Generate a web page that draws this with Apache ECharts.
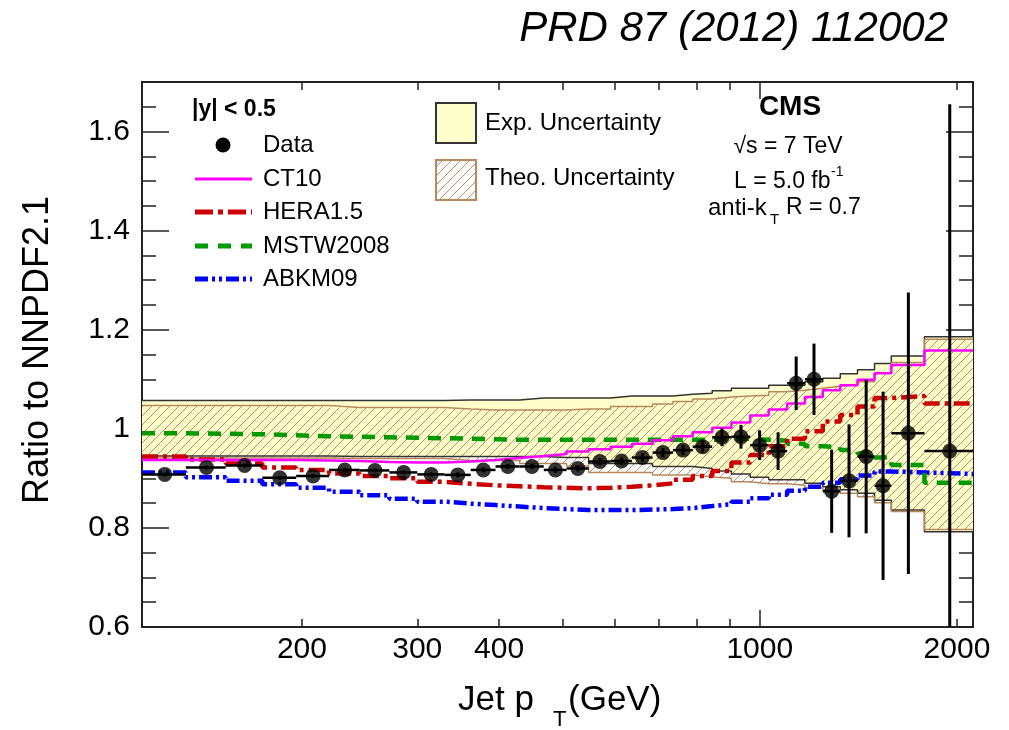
<!DOCTYPE html>
<html>
<head>
<meta charset="utf-8">
<script src="https://cdn.jsdelivr.net/npm/echarts@6/dist/echarts.min.js"></script>
<style>
  html, body { margin: 0; padding: 0; background: #fff; }
  #chart { width: 1009px; height: 730px; }
</style>
</head>
<body>
<div id="chart"></div>
<script>
  // jet pT bin edges (GeV), |y| < 0.5
  const binEdges = [114, 133, 153, 174, 196, 220, 245, 272, 300, 330, 362, 395, 430, 468, 507, 548, 592, 638, 686,
    737, 790, 846, 905, 967, 1032, 1101, 1172, 1248, 1327, 1410, 1497, 1588, 1784, 2116]

  const dataRatio = [0.908, 0.922, 0.926, 0.901, 0.905, 0.917, 0.916, 0.912, 0.908, 0.907, 0.917, 0.924, 0.924,
    0.917, 0.920, 0.934, 0.935, 0.942, 0.952, 0.957, 0.964, 0.983, 0.984, 0.967, 0.955, 1.092, 1.100, 0.874,
    0.895, 0.944, 0.885, 0.991, 0.955]
  const dataErr = [0.004, 0.004, 0.004, 0.004, 0.004, 0.004, 0.004, 0.004, 0.004, 0.005, 0.005, 0.005, 0.005,
    0.006, 0.006, 0.007, 0.007, 0.008, 0.009, 0.010, 0.012, 0.018, 0.024, 0.030, 0.038, 0.054, 0.072, 0.084,
    0.114, 0.155, 0.190, 0.284, 0.700]

  const expHi = [1.057, 1.057, 1.057, 1.057, 1.057, 1.057, 1.057, 1.057, 1.057, 1.058, 1.058, 1.058, 1.062,
    1.062, 1.062, 1.062, 1.066, 1.066, 1.066, 1.070, 1.072, 1.077, 1.082, 1.082, 1.088, 1.088, 1.095, 1.102,
    1.111, 1.119, 1.132, 1.147, 1.186]
  const expLo = [0.945, 0.945, 0.945, 0.945, 0.945, 0.944, 0.944, 0.944, 0.944, 0.944, 0.944, 0.944, 0.944,
    0.942, 0.942, 0.930, 0.930, 0.930, 0.924, 0.924, 0.920, 0.915, 0.909, 0.902, 0.897, 0.897, 0.890, 0.883,
    0.877, 0.870, 0.856, 0.836, 0.792]
  const theoHi = [1.047, 1.047, 1.047, 1.047, 1.047, 1.043, 1.043, 1.043, 1.043, 1.040, 1.038, 1.038, 1.038,
    1.038, 1.040, 1.040, 1.045, 1.045, 1.050, 1.055, 1.060, 1.064, 1.066, 1.068, 1.075, 1.078, 1.082, 1.086,
    1.090, 1.095, 1.112, 1.134, 1.181]
  const theoLo = [0.941, 0.941, 0.941, 0.941, 0.941, 0.940, 0.940, 0.940, 0.940, 0.936, 0.936, 0.936, 0.930,
    0.930, 0.925, 0.912, 0.912, 0.912, 0.907, 0.907, 0.903, 0.900, 0.893, 0.889, 0.889, 0.886, 0.881, 0.876,
    0.870, 0.863, 0.851, 0.833, 0.797]

  const ct10 = [0.937, 0.937, 0.937, 0.937, 0.936, 0.935, 0.933, 0.932, 0.932, 0.934, 0.937, 0.941, 0.945, 0.949,
    0.954, 0.959, 0.964, 0.970, 0.977, 0.985, 0.993, 1.002, 1.013, 1.027, 1.039, 1.051, 1.064, 1.078, 1.088,
    1.099, 1.112, 1.129, 1.158]
  const hera = [0.944, 0.938, 0.930, 0.922, 0.917, 0.910, 0.905, 0.900, 0.893, 0.889, 0.886, 0.884, 0.882, 0.881,
    0.880, 0.881, 0.883, 0.886, 0.890, 0.897, 0.905, 0.915, 0.932, 0.947, 0.965, 0.980, 0.995, 1.015, 1.028,
    1.045, 1.062, 1.066, 1.051]
  const mstw = [0.991, 0.990, 0.989, 0.987, 0.985, 0.984, 0.983, 0.982, 0.981, 0.980, 0.979, 0.978, 0.978, 0.978,
    0.978, 0.978, 0.978, 0.978, 0.978, 0.978, 0.978, 0.979, 0.980, 0.978, 0.976, 0.970, 0.965, 0.963, 0.957,
    0.950, 0.942, 0.927, 0.891]
  const abkm = [0.912, 0.902, 0.895, 0.888, 0.881, 0.873, 0.866, 0.859, 0.853, 0.849, 0.846, 0.843, 0.840, 0.838,
    0.836, 0.836, 0.836, 0.837, 0.838, 0.840, 0.844, 0.848, 0.853, 0.860, 0.867, 0.875, 0.883, 0.891, 0.898,
    0.906, 0.914, 0.912, 0.909]

  const xTickLabels = [200, 300, 400, 1000, 2000]
  const xMinorTicks = [200, 300, 400, 500, 600, 700, 800, 900, 2000]
  const xMajorTicks = [1000]
  const yTickLabels = [0.6, 0.8, 1.0, 1.2, 1.4, 1.6]
  const yMinorTicks = [0.65, 0.7, 0.75, 0.85, 0.9, 0.95, 1.05, 1.1, 1.15, 1.25, 1.3, 1.35, 1.45, 1.5, 1.55, 1.65]

  const FONT = '"Liberation Sans", Arial, Helvetica, sans-serif'
  const brown = '#b8875e'
  const lx = v => Math.log10(v)

  const makeHatch = () => {
    const c = document.createElement('canvas')
    c.width = 9
    c.height = 9
    const ctx = c.getContext('2d')
    ctx.strokeStyle = '#bb9066'
    ctx.lineWidth = 1
    ctx.beginPath()
    ctx.moveTo(0, 9); ctx.lineTo(9, 0)
    ctx.moveTo(-1, 1); ctx.lineTo(1, -1)
    ctx.moveTo(8, 10); ctx.lineTo(10, 8)
    ctx.stroke()
    return c
  }
  const hatch = { image: makeHatch(), repeat: 'repeat' }

  // bins as [lo, hi, yLo, yHi] in log10(pT)
  const bandData = (lo, hi) => lo.map((v, i) => [lx(binEdges[i]), lx(binEdges[i + 1]), v, hi[i]])
  const stepPts = arr => binEdges.map((e, i) => [lx(e), arr[Math.min(i, arr.length - 1)]])

  const bandSeries = (data, fill, z) => ({
    type: 'custom',
    z: z,
    clip: true,
    silent: true,
    data: data,
    renderItem: (params, api) => {
      const p0 = api.coord([api.value(0), api.value(3)])
      const p1 = api.coord([api.value(1), api.value(2)])
      return {
        type: 'rect',
        shape: { x: p0[0] - 0.3, y: p0[1], width: p1[0] - p0[0] + 0.6, height: p1[1] - p0[1] },
        style: { fill: fill }
      }
    }
  })

  const stepLine = (arr, color, width, dash, z) => ({
    type: 'line',
    step: 'end',
    z: z,
    silent: true,
    showSymbol: false,
    data: stepPts(arr),
    lineStyle: { color: color, width: width, type: dash }
  })

  const points = dataRatio.map((v, i) => [lx((binEdges[i] + binEdges[i + 1]) / 2), v])
  const errData = dataRatio.map((v, i) =>
    [lx(binEdges[i]), lx(binEdges[i + 1]), v, dataErr[i], lx((binEdges[i] + binEdges[i + 1]) / 2)])

  const xMin = lx(binEdges[0])
  const xMax = lx(binEdges[binEdges.length - 1])
  const frame = { lineStyle: { color: '#222', width: 2 } }
  const tickStyle = { color: '#222', width: 1.5 }

  const xAxis = (grid, pos, len, ticks, labels) => ({
    type: 'value', gridIndex: grid, position: pos, min: xMin, max: xMax,
    splitLine: { show: false }, axisLine: frame,
    axisTick: { inside: true, length: len, lineStyle: tickStyle, customValues: ticks.map(lx) },
    axisLabel: labels ? {
      customValues: labels.map(lx), formatter: v => String(Math.round(Math.pow(10, v))),
      fontSize: 30, fontFamily: FONT, color: '#000', margin: 8
    } : { show: false }
  })
  const yAxis = (grid, pos, len, ticks, labels) => ({
    type: 'value', gridIndex: grid, position: pos, min: 0.6, max: 1.7,
    splitLine: { show: false }, axisLine: frame,
    axisTick: { inside: true, length: len, lineStyle: tickStyle, customValues: ticks },
    axisLabel: labels ? {
      customValues: labels, formatter: v => String(Math.round(v * 10) / 10),
      fontSize: 30, fontFamily: FONT, color: '#000', margin: 12
    } : { show: false }
  })

  const txt = (x, y, text, font, align) => ({
    type: 'text', x: x, y: y, z: 100,
    style: { text: text, font: font, fill: '#000', align: align || 'left', verticalAlign: 'middle',
      textAlign: align || 'left', textVerticalAlign: 'middle' }
  })
  const legLine = (y, color, width, dash) => ({
    type: 'line', z: 100, shape: { x1: 195, y1: y, x2: 252, y2: y },
    style: { stroke: color, lineWidth: width, lineDash: dash }
  })

  const chart = echarts.init(document.getElementById('chart'))

  const option = {
    animation: false,
    backgroundColor: '#fff',
    grid: [
      { left: 142, right: 36, top: 82, bottom: 103 },
      { left: 142, right: 36, top: 82, bottom: 103 }
    ],
    xAxis: [
      xAxis(0, 'bottom', 8, xMinorTicks, xTickLabels),
      xAxis(0, 'top', 8, xMinorTicks),
      xAxis(1, 'bottom', 17, xMajorTicks),
      xAxis(1, 'top', 17, xMajorTicks)
    ],
    yAxis: [
      yAxis(0, 'left', 27, yTickLabels, yTickLabels),
      yAxis(0, 'right', 27, yTickLabels),
      yAxis(1, 'left', 14, yMinorTicks),
      yAxis(1, 'right', 14, yMinorTicks)
    ],
    series: [
      bandSeries(bandData(expLo, expHi), '#ffffcc', 1),
      bandSeries(bandData(theoLo, theoHi), hatch, 2),
      stepLine(expHi, '#333', 1.5, 'solid', 3),
      stepLine(expLo, '#333', 1.5, 'solid', 3),
      stepLine(theoHi, brown, 1.5, 'solid', 3),
      stepLine(theoLo, brown, 1.5, 'solid', 3),
      stepLine(abkm, '#0000ff', 4.5, [13, 4, 3, 4, 3, 4], 4),
      stepLine(mstw, '#009900', 4.5, [13, 9], 4),
      stepLine(hera, '#cc0000', 4.5, [16, 5, 4, 5], 4),
      stepLine(ct10, '#ff00ff', 2.5, 'solid', 5),
      {
        type: 'custom',
        z: 6,
        clip: true,
        silent: true,
        data: errData,
        renderItem: (params, api) => {
          const a = api.coord([api.value(0), api.value(2)])
          const b = api.coord([api.value(1), api.value(2)])
          const top = api.coord([api.value(4), api.value(2) + api.value(3)])
          const bot = api.coord([api.value(4), api.value(2) - api.value(3)])
          return {
            type: 'group',
            children: [
              { type: 'line', shape: { x1: a[0], y1: a[1], x2: b[0], y2: b[1] }, style: { stroke: '#000', lineWidth: 2.5 } },
              { type: 'line', shape: { x1: top[0], y1: top[1], x2: bot[0], y2: bot[1] }, style: { stroke: '#000', lineWidth: 3 } }
            ]
          }
        }
      },
      {
        type: 'scatter',
        z: 7,
        silent: true,
        symbol: 'circle',
        symbolSize: 15,
        itemStyle: { color: '#000' },
        data: points
      }
    ],
    graphic: [
      txt(948, 29, 'PRD 87 (2012) 112002', 'italic 42px ' + FONT, 'right'),
      {
        type: 'text', x: 38, y: 350, rotation: Math.PI / 2, z: 100,
        style: { text: 'Ratio to NNPDF2.1', font: '36px ' + FONT, fill: '#000', align: 'center', verticalAlign: 'middle',
          textAlign: 'center', textVerticalAlign: 'middle' }
      },
      txt(458, 700, 'Jet p', '35px ' + FONT),
      txt(553, 720, 'T', '22px ' + FONT),
      txt(568, 700, '(GeV)', '35px ' + FONT),

      txt(192, 110, '|y| < 0.5', 'bold 23px ' + FONT),
      { type: 'circle', z: 100, shape: { cx: 223, cy: 145, r: 7.5 }, style: { fill: '#000' } },
      txt(263, 145, 'Data', '24px ' + FONT),
      legLine(179, '#ff00ff', 3, null),
      txt(263, 179, 'CT10', '24px ' + FONT),
      legLine(212, '#cc0000', 5, [18, 5, 5, 5]),
      txt(263, 212, 'HERA1.5', '24px ' + FONT),
      legLine(246, '#009900', 5, [13, 10]),
      txt(263, 246, 'MSTW2008', '24px ' + FONT),
      legLine(279, '#0000ff', 5, [13, 4, 3, 4, 3, 4]),
      txt(263, 279, 'ABKM09', '24px ' + FONT),

      { type: 'rect', z: 100, shape: { x: 436, y: 103, width: 40, height: 40 }, style: { fill: '#ffffcc', stroke: '#333', lineWidth: 2 } },
      txt(485, 123, 'Exp. Uncertainty', '24px ' + FONT),
      { type: 'rect', z: 100, shape: { x: 436, y: 160, width: 40, height: 40 }, style: { fill: hatch, stroke: brown, lineWidth: 2 } },
      txt(485, 178, 'Theo. Uncertainty', '24px ' + FONT),

      txt(790, 107, 'CMS', 'bold 28px ' + FONT, 'center'),
      txt(788, 147, '√s = 7 TeV', '23px ' + FONT, 'center'),
      txt(734, 182, 'L = 5.0 fb', '23px ' + FONT),
      txt(831, 172, '-1', '14px ' + FONT),
      txt(708, 208, 'anti-k', '24px ' + FONT),
      txt(770, 220, 'T', '15px ' + FONT),
      txt(786, 208, 'R = 0.7', '23px ' + FONT)
    ]
  }

  chart.setOption(option)
  window.addEventListener('resize', () => {
    chart.resize()
  })
</script>
</body>
</html>
